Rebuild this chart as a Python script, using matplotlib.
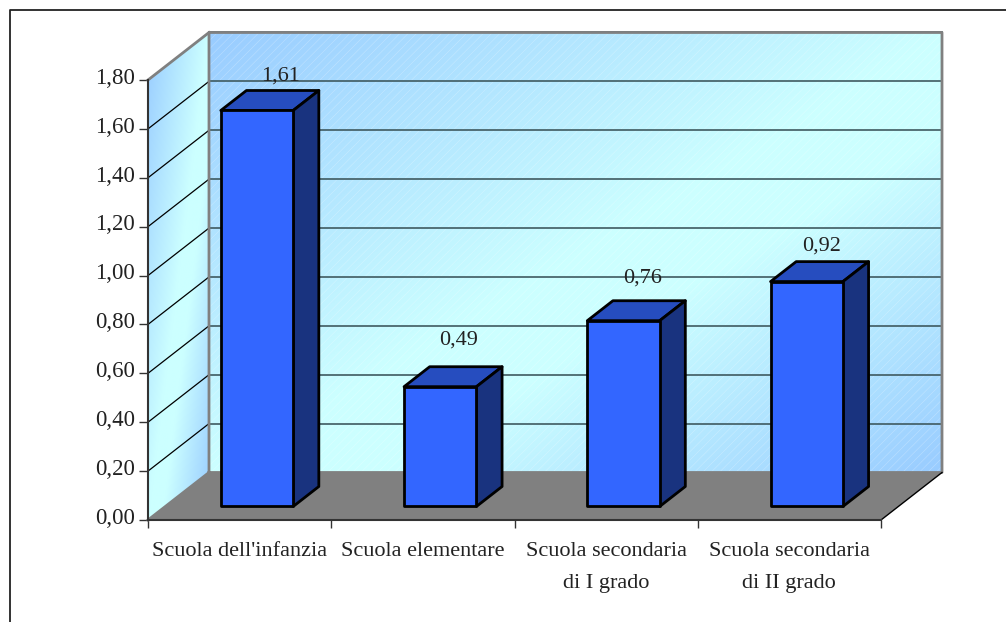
import numpy as np
import matplotlib
matplotlib.use('Agg')
import matplotlib.pyplot as plt
from matplotlib.colors import LinearSegmentedColormap
from matplotlib.patches import Polygon
from matplotlib.transforms import ScaledTranslation

categories = ["Scuola dell'infanzia", "Scuola elementare", "Scuola secondaria\ndi I grado", "Scuola secondaria\ndi II grado"]
values = [1.62, 0.49, 0.76, 0.92]
labels = ["1,61", "0,49", "0,76", "0,92"]
y_ticks = [0.0, 0.2, 0.4, 0.6, 0.8, 1.0, 1.2, 1.4, 1.6, 1.8]

# label offsets from the top of each bar, in points
label_dx = [17, 13.5, 14, 11]
label_dy = [25, 33.5, 30.5, 25.5]

plt.rcParams['font.family'] = ['Liberation Serif', 'DejaVu Serif']
plt.rcParams['hatch.linewidth'] = 0.4
TEXT = '#222222'
GREY = '#808080'
W, H = 1006, 622

fig = plt.figure(figsize=(W / 100, H / 100), dpi=100)
ax = fig.add_axes([148 / W, (H - 520) / H, 733 / W, 440 / H])
ax.set_xlim(0, 4)
ax.set_ylim(0, 1.8)
ax.patch.set_visible(False)

# depth of the fake 3d box, in data units
DX = 61 / 183.25
DY = 47.5 / 244.4


def proj(x, y, d):
    return (x + d * DX, y + d * DY)


def gradient():
    u, v = np.meshgrid(np.linspace(0, 1, 300), np.linspace(0, 1, 300))
    return (u + v) / 2


cmap = LinearSegmentedColormap.from_list('wall', [(0, '#99CCFF'), (0.5, '#CCFFFF'), (0.62, '#CCFFFF'), (1, '#99CCFF')])

# back wall
ax.imshow(gradient(), cmap=cmap, vmin=0, vmax=1, aspect='auto', zorder=1, clip_on=False,
          extent=(DX, 4 + DX, DY, 1.8 + DY), origin='upper')
ax.add_patch(Polygon([proj(0, 0, 1), proj(4, 0, 1), proj(4, 1.8, 1), proj(0, 1.8, 1)], closed=True,
                     facecolor='none', edgecolor=(1, 1, 1, 0.3), hatch='////', lw=0, zorder=1.5, clip_on=False))

# side wall
side = Polygon([proj(0, 0, 0), proj(0, 1.8, 0), proj(0, 1.8, 1), proj(0, 0, 1)],
               closed=True, transform=ax.transData, facecolor='none', edgecolor='none')
ax.add_patch(side)
side_im = ax.imshow(gradient(), cmap=cmap, vmin=0, vmax=1, aspect='auto', zorder=1,
                    extent=(0, DX, 0, 1.8 + DY), origin='upper')
side_im.set_clip_path(side)
side_im.set_clip_box(fig.bbox)
ax.set_xlim(0, 4)
ax.set_ylim(0, 1.8)

# grid lines
for t in y_ticks[1:-1]:
    ax.plot(*zip(proj(0, t, 0), proj(0, t, 1)), color='black', lw=0.9, zorder=2, clip_on=False)
for t in y_ticks[1:]:
    ax.plot(*zip(proj(0, t, 1), proj(4, t, 1)), color='#3f5a60', lw=1.2, zorder=2, clip_on=False)

# wall borders
ax.plot(*zip(proj(0, 0, 0), proj(0, 0, 1), proj(0, 1.8, 1), proj(4, 1.8, 1), proj(4, 0, 1), proj(0, 0, 1)),
        color=GREY, lw=2, zorder=3, clip_on=False)
ax.plot(*zip(proj(0, 1.8, 0), proj(0, 1.8, 1)), color=GREY, lw=2, zorder=3, clip_on=False)

# floor
ax.add_patch(Polygon([proj(0, 0, 0), proj(4, 0, 0), proj(4, 0, 1), proj(0, 0, 1)], closed=True,
                     facecolor=GREY, edgecolor='none', zorder=4, clip_on=False))
ax.plot(*zip(proj(4, 0, 0), proj(4, 0, 1)), color='black', lw=1, zorder=5, clip_on=False)

# bars
bar_w = 0.395
d0, d1 = 0.285, 0.705
for i, val in enumerate(values):
    x0 = i + 0.5 - bar_w / 2
    x1 = i + 0.5 + bar_w / 2
    style = dict(closed=True, edgecolor='black', lw=2, joinstyle='round', zorder=6, clip_on=False)
    ax.add_patch(Polygon([proj(x0, val, d0), proj(x1, val, d0), proj(x1, val, d1), proj(x0, val, d1)],
                         facecolor='#264DBF', **style))
    ax.add_patch(Polygon([proj(x1, 0, d0), proj(x1, 0, d1), proj(x1, val, d1), proj(x1, val, d0)],
                         facecolor='#19337F', **style))
    ax.add_patch(Polygon([proj(x0, 0, d0), proj(x1, 0, d0), proj(x1, val, d0), proj(x0, val, d0)],
                         facecolor='#3366FF', **style))
    ax.annotate(labels[i], xy=proj(i + 0.5, val, d0), xytext=(label_dx[i], label_dy[i]),
                textcoords='offset points', ha='center', va='center', fontsize=16,
                color=TEXT, zorder=7, annotation_clip=False)

# axes
for s in ['top', 'right']:
    ax.spines[s].set_visible(False)
for s in ['left', 'bottom']:
    ax.spines[s].set_color('#333333')
    ax.spines[s].set_linewidth(1.5)
    ax.spines[s].set_zorder(8)

ax.set_yticks(y_ticks)
ax.set_yticklabels([('%.2f' % t).replace('.', ',') for t in y_ticks])
ax.tick_params(axis='y', direction='out', length=6.5, width=1, color='#333333', pad=3,
               labelsize=16.5, labelcolor=TEXT)
shift = ScaledTranslation(0, 3 / 72, fig.dpi_scale_trans)
for lab in ax.get_yticklabels():
    lab.set_transform(lab.get_transform() + shift)

ax.set_xticks(range(5))
ax.set_xticklabels([])
ax.tick_params(axis='x', which='major', direction='out', length=6, width=1, color='#333333')
ax.set_xticks([i + 0.5 for i in range(4)], minor=True)
ax.set_xticklabels(categories, minor=True, fontsize=16, color=TEXT, linespacing=1.93)
ax.tick_params(axis='x', which='minor', length=0, pad=16)

# chart frame, only partly inside the picture
fig.add_artist(plt.Line2D([9.5 / W, 9.5 / W, 1], [0, (H - 10) / H, (H - 10) / H], color='#222222', lw=1.3))

fig.savefig('out.png', dpi=100)
